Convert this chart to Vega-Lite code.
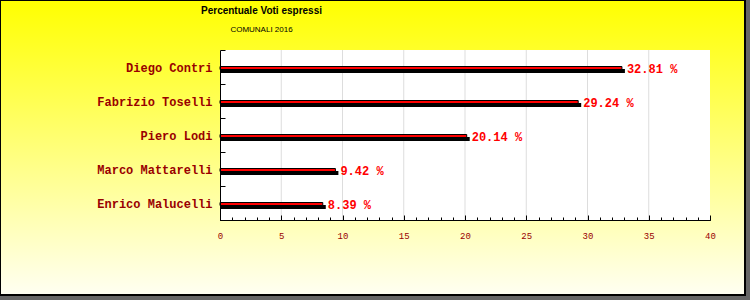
{
  "$schema": "https://vega.github.io/schema/vega-lite/v6.json",
  "width": 745,
  "height": 295,
  "autosize": {"type": "none"},
  "padding": {"left": 0, "top": 0, "right": 5, "bottom": 5},
  "background": "#666666",
  "title": {
    "text": "Percentuale Voti espressi",
    "subtitle": "COMUNALI 2016",
    "anchor": "middle",
    "frame": "group",
    "offset": 0,
    "dx": -111,
    "dy": 40,
    "font": "Liberation Sans",
    "fontSize": 10,
    "fontWeight": "bold",
    "color": "#000000",
    "subtitleFont": "Liberation Sans",
    "subtitleFontSize": 8,
    "subtitleColor": "#000000",
    "subtitlePadding": 10
  },
  "config": {
    "view": {
      "fill": {
        "gradient": "linear",
        "x1": 0, "y1": 0, "x2": 0, "y2": 1,
        "stops": [
          {"offset": 0, "color": "#ffff00"},
          {"offset": 1, "color": "#fffff2"}
        ]
      },
      "stroke": "#000000",
      "strokeWidth": 2
    }
  },
  "datasets": {
    "votes": [
      {"name": "Diego Contri", "value": 32.81, "label": "32.81 %"},
      {"name": "Fabrizio Toselli", "value": 29.24, "label": "29.24 %"},
      {"name": "Piero Lodi", "value": 20.14, "label": "20.14 %"},
      {"name": "Marco Mattarelli", "value": 9.42, "label": "9.42 %"},
      {"name": "Enrico Malucelli", "value": 8.39, "label": "8.39 %"}
    ],
    "plot": [
      {"name": "Diego Contri", "value": 40},
      {"name": "Fabrizio Toselli", "value": 40},
      {"name": "Piero Lodi", "value": 40},
      {"name": "Marco Mattarelli", "value": 40},
      {"name": "Enrico Malucelli", "value": 40}
    ],
    "grid": [
      {"name": "Diego Contri", "value": 5}, {"name": "Diego Contri", "value": 10}, {"name": "Diego Contri", "value": 15}, {"name": "Diego Contri", "value": 20}, {"name": "Diego Contri", "value": 25}, {"name": "Diego Contri", "value": 30}, {"name": "Diego Contri", "value": 35},
      {"name": "Fabrizio Toselli", "value": 5}, {"name": "Fabrizio Toselli", "value": 10}, {"name": "Fabrizio Toselli", "value": 15}, {"name": "Fabrizio Toselli", "value": 20}, {"name": "Fabrizio Toselli", "value": 25}, {"name": "Fabrizio Toselli", "value": 30}, {"name": "Fabrizio Toselli", "value": 35},
      {"name": "Piero Lodi", "value": 5}, {"name": "Piero Lodi", "value": 10}, {"name": "Piero Lodi", "value": 15}, {"name": "Piero Lodi", "value": 20}, {"name": "Piero Lodi", "value": 25}, {"name": "Piero Lodi", "value": 30}, {"name": "Piero Lodi", "value": 35},
      {"name": "Marco Mattarelli", "value": 5}, {"name": "Marco Mattarelli", "value": 10}, {"name": "Marco Mattarelli", "value": 15}, {"name": "Marco Mattarelli", "value": 20}, {"name": "Marco Mattarelli", "value": 25}, {"name": "Marco Mattarelli", "value": 30}, {"name": "Marco Mattarelli", "value": 35},
      {"name": "Enrico Malucelli", "value": 5}, {"name": "Enrico Malucelli", "value": 10}, {"name": "Enrico Malucelli", "value": 15}, {"name": "Enrico Malucelli", "value": 20}, {"name": "Enrico Malucelli", "value": 25}, {"name": "Enrico Malucelli", "value": 30}, {"name": "Enrico Malucelli", "value": 35}
    ]
  },
  "encoding": {
    "y": {
      "field": "name",
      "type": "nominal",
      "sort": null,
      "scale": {"range": [50, 220], "paddingInner": 0, "paddingOuter": 0},
      "axis": {
        "title": null,
        "orient": "right",
        "offset": -525,
        "zindex": 1,
        "tickBand": "extent",
        "tickSize": 5,
        "tickColor": "#000000",
        "domainColor": "#000000",
        "grid": false,
        "labelAlign": "right",
        "labelFont": "Liberation Mono",
        "labelFontSize": 12,
        "labelFontWeight": "bold",
        "labelColor": "#990000",
        "labelPadding": -13
      }
    },
    "x": {
      "field": "value",
      "type": "quantitative",
      "scale": {"domain": [0, 40], "range": [220, 710], "nice": false, "zero": false},
      "axis": {
        "title": null,
        "orient": "top",
        "offset": -220,
        "zindex": 1,
        "values": [0,1,2,3,4,5,6,7,8,9,10,11,12,13,14,15,16,17,18,19,20,21,22,23,24,25,26,27,28,29,30,31,32,33,34,35,36,37,38,39,40],
        "grid": false,
        "domainColor": "#000000",
        "tickColor": "#000000",
        "tickSize": 3,
        "labelExpr": "datum.value % 5 === 0 ? datum.label : ''",
        "labelBaseline": "top",
        "labelFont": "Liberation Mono",
        "labelFontSize": 9,
        "labelColor": "#990000",
        "labelPadding": -14,
        "labelFlush": false,
        "labelOverlap": false,
        "labelBound": false
      }
    }
  },
  "resolve": {"axis": {"x": "independent"}},
  "layer": [
    {
      "data": {"name": "plot"},
      "mark": {"type": "bar", "color": "#ffffff"},
      "encoding": {
        "x": {
          "field": "value",
          "type": "quantitative",
          "scale": {"domain": [0, 40], "range": [220, 710], "nice": false, "zero": false},
          "axis": {
            "title": null,
            "orient": "top",
            "offset": -220,
            "zindex": 2,
            "values": [0, 5, 10, 15, 20, 25, 30, 35, 40],
            "grid": false,
            "domain": true,
            "domainColor": "#000000",
            "tickColor": "#000000",
            "tickSize": 5,
            "labels": false
          }
        },
        "x2": {"datum": 0}
      }
    },
    {
      "data": {"name": "grid"},
      "mark": {"type": "tick", "color": "#dddddd", "thickness": 1, "size": 34, "opacity": 1},
      "encoding": {
        "x": {"field": "value", "type": "quantitative", "axis": null}
      }
    },
    {
      "data": {"name": "votes"},
      "mark": {"type": "bar", "color": "#000000", "height": 4, "yOffset": 4, "xOffset": 3, "x2Offset": 1},
      "encoding": {
        "x": {"field": "value", "type": "quantitative", "axis": null},
        "x2": {"datum": 0}
      }
    },
    {
      "data": {"name": "votes"},
      "mark": {"type": "bar", "color": "#ff0000", "stroke": "#000000", "strokeWidth": 1, "height": 3, "yOffset": 1},
      "encoding": {
        "x": {"field": "value", "type": "quantitative", "axis": null},
        "x2": {"datum": 0}
      }
    },
    {
      "data": {"name": "votes"},
      "mark": {"type": "text", "align": "left", "baseline": "middle", "dx": 5, "dy": 2, "font": "Liberation Mono", "fontSize": 12, "fontWeight": "bold", "color": "#ff0000"},
      "encoding": {"text": {"field": "label"}}
    }
  ]
}
